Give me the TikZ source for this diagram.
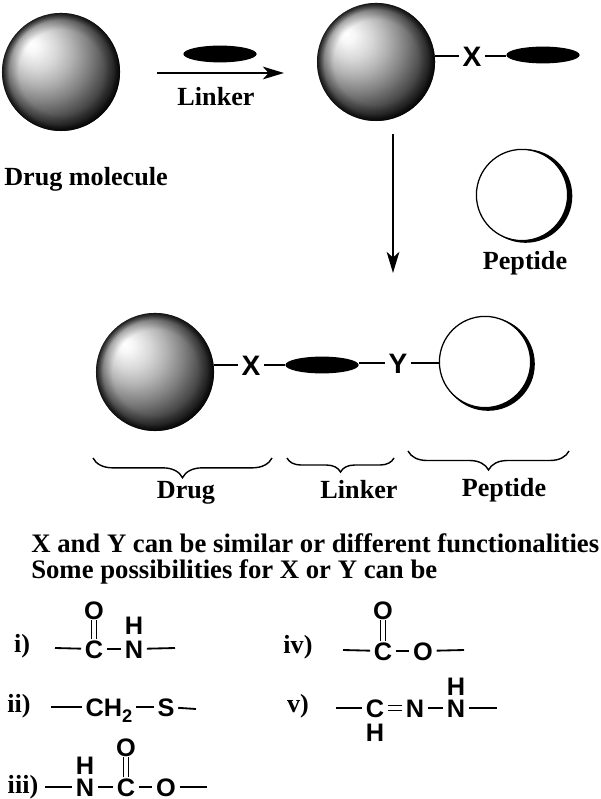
\documentclass[tikz,border=0pt]{standalone}
\usepackage{fontspec}
\setmainfont{Liberation Serif}
\setsansfont{Liberation Sans}
\usetikzlibrary{arrows.meta,shapes.geometric,decorations.pathreplacing,fadings}
\pgfdeclareradialshading{drugshade}{\pgfpoint{-13bp}{12bp}}{%
  color(0bp)=(white);color(3bp)=(white!97!black);color(9bp)=(white!84!black);
  color(14bp)=(white!70!black);color(20bp)=(white!50!black);color(26bp)=(white!28!black);
  color(32bp)=(white!6!black);color(50bp)=(black)}
\pgfdeclareradialshading{rimmask}{\pgfpointorigin}{%
  color(0bp)=(black);color(18bp)=(black);color(22bp)=(white!25!black);
  color(25bp)=(white!85!black);color(50bp)=(white)}
\pgfdeclarefading{rimfade}{\pgfuseshading{rimmask}}

\begin{document}
\begin{tikzpicture}[
  x=0.025cm,y=-0.025cm,
  every node/.style={inner sep=0pt},
  drugball/.style={circle,minimum size=2.95cm,shading=drugshade},
  drugrim/.style={circle,minimum size=2.95cm,fill=black,path fading=rimfade},
  linkblob/.style={ellipse,fill=black,minimum width=1.83cm,minimum height=0.42cm},
  pepring/.style={circle,draw=black,line width=0.9pt,fill=white,minimum size=2.28cm},
  pepshade/.style={circle,fill=black,minimum size=2.34cm},
  textlabel/.style={font=\fontsize{18.6}{20}\selectfont\bfseries,anchor=base},
  caption/.style={font=\fontsize{19}{20}\selectfont\bfseries,anchor=base west},
  chem/.style={font=\fontsize{18}{20}\selectfont\sffamily\bfseries,text height=12.9pt,text depth=0pt,
               inner xsep=2.5pt,inner ysep=0.5pt},
  chembig/.style={chem,font=\fontsize{20}{20}\selectfont\sffamily\bfseries,text height=14.3pt},
  bond/.style={line width=1.3pt},
  dbond/.style={double,double distance=2.3pt,line width=1pt},
  bigarrow/.style={line width=1.5pt,-{Stealth[length=15pt,width=9pt,inset=4pt]}},
  bracket/.style={line width=1pt,decorate},
]
  \useasboundingbox (0,0) rectangle (600,799);

  % Top row
  \node[drugball] (drugA) at (61,72) {};
  \node[drugrim] (rimA) at (61,72) {};
  \node[linkblob] (blobA) at (220,54) {};
  \coordinate (arrowAs) at (157,73);
  \coordinate (arrowAe) at (284,73);
  \draw[bigarrow] (arrowAs) -- (arrowAe);
  \node[textlabel] (linkerA) at (216,106) {Linker};
  \node[textlabel] (drugname) at (86,186) {Drug molecule};

  \node[drugball] (drugB) at (376,62) {};
  \node[drugrim] (rimB) at (376,62) {};
  \node[chembig] (xA) at (472,56) {X};
  \node[linkblob] (blobB) at (543,55) {};
  \draw[bond] (xA) -- (xA -| drugB.east);
  \draw[bond] (xA) -- (xA -| blobB.west);

  % Down arrow and peptide
  \coordinate (arrowBs) at (393,134);
  \coordinate (arrowBe) at (393,273);
  \draw[bigarrow] (arrowBs) -- (arrowBe);
  \node[pepshade] (shadeA) at (525.5,196) {};
  \node[pepring] (pepA) at (522,195) {};
  \node[textlabel] (peptideA) at (525,270) {Peptide};

  % Conjugate row
  \node[drugball] (drugC) at (155,372) {};
  \node[drugrim] (rimC) at (155,372) {};
  \node[chembig] (xB) at (251,365) {X};
  \node[linkblob] (blobC) at (322,365) {};
  \node[chembig] (yB) at (398,363) {Y};
  \node[pepshade] (shadeB) at (488,364) {};
  \node[pepring] (pepB) at (485,362) {};
  \draw[bond] (xB) -- (xB -| drugC.east);
  \draw[bond] (xB) -- (xB -| blobC.west);
  \draw[bond] (yB -| blobC.east) -- (yB);
  \draw[bond] (yB) -- (yB -| pepB.west);

  % Braces
  \coordinate (brDr) at (272,458);
  \coordinate (brDl) at (93,458);
  \coordinate (brLr) at (394,458);
  \coordinate (brLl) at (287,458);
  \coordinate (brPr) at (569,451);
  \coordinate (brPl) at (408,451);
  \draw[bracket,decoration={brace,amplitude=14pt}] (brDr) -- (brDl);
  \draw[bracket,decoration={brace,amplitude=10pt}] (brLr) -- (brLl);
  \draw[bracket,decoration={brace,amplitude=13.5pt}] (brPr) -- (brPl);
  \node[textlabel] (drugC name) at (186,498) {Drug};
  \node[textlabel] (linkerC) at (359,498) {Linker};
  \node[textlabel] (peptideC) at (504,496) {Peptide};

  % Caption
  \node[caption] (capA) at (31,552) {X and Y can be similar or different functionalities};
  \node[caption] (capB) at (31,578) {Some possibilities for X or Y can be};

  % i)
  \node[textlabel] (lbA) at (22,652) {i)};
  \coordinate (iL) at (55,648);
  \node[chem] (iC) at (94,649) {C};
  \node[chem] (iO) at (94,610) {O};
  \node[chem] (iN) at (134,649) {N};
  \node[chem] (iH) at (134,625) {H};
  \coordinate (iR) at (175,648);
  \draw[bond] (iL) -- (iC);
  \draw[bond] (iC) -- (iN);
  \draw[bond] (iN) -- (iR);
  \draw[dbond] (iC) -- (iO);

  % ii)
  \node[textlabel] (lbB) at (19,712) {ii)};
  \coordinate (iiL) at (51,707);
  \node[chem] (iiC) at (109,707) {CH\raisebox{-4.5pt}{\fontsize{13}{13}\selectfont 2}};
  \node[chem] (iiS) at (166,707) {S};
  \coordinate (iiR) at (196,709);
  \draw[bond] (iiL) -- (iiC);
  \draw[bond] (iiC) -- (iiS);
  \draw[bond] (iiS) -- (iiR);

  % iii)
  \node[textlabel] (lbC) at (23,793) {iii)};
  \coordinate (iiiL) at (45,787);
  \node[chem] (iiiN) at (85,787) {N};
  \node[chem] (iiiH) at (85,765) {H};
  \node[chem] (iiiC) at (126,787) {C};
  \node[chem] (iiiO) at (126,747) {O};
  \node[chem] (iiiP) at (166,787) {O};
  \coordinate (iiiR) at (207,787);
  \draw[bond] (iiiL) -- (iiiN);
  \draw[bond] (iiiN) -- (iiiC);
  \draw[bond] (iiiC) -- (iiiP);
  \draw[bond] (iiiP) -- (iiiR);
  \draw[dbond] (iiiC) -- (iiiO);

  % iv)
  \node[textlabel] (lbD) at (298,653) {iv)};
  \coordinate (ivL) at (343,650);
  \node[chem] (ivC) at (383,651) {C};
  \node[chem] (ivO) at (383,610) {O};
  \node[chem] (ivP) at (423,651) {O};
  \coordinate (ivR) at (464,650);
  \draw[bond] (ivL) -- (ivC);
  \draw[bond] (ivC) -- (ivP);
  \draw[bond] (ivP) -- (ivR);
  \draw[dbond] (ivC) -- (ivO);

  % v)
  \node[textlabel] (lbE) at (298,712) {v)};
  \coordinate (vL) at (336,708);
  \node[chem] (vC) at (375,708) {C};
  \node[chem] (vH) at (375,732) {H};
  \node[chem] (vN) at (415,708) {N};
  \node[chem] (vP) at (456,708) {N};
  \node[chem] (vQ) at (456,686) {H};
  \coordinate (vR) at (497,708);
  \draw[bond] (vL) -- (vC);
  \draw[dbond] (vC) -- (vN);
  \draw[bond] (vN) -- (vP);
  \draw[bond] (vP) -- (vR);
\end{tikzpicture}
\end{document}
